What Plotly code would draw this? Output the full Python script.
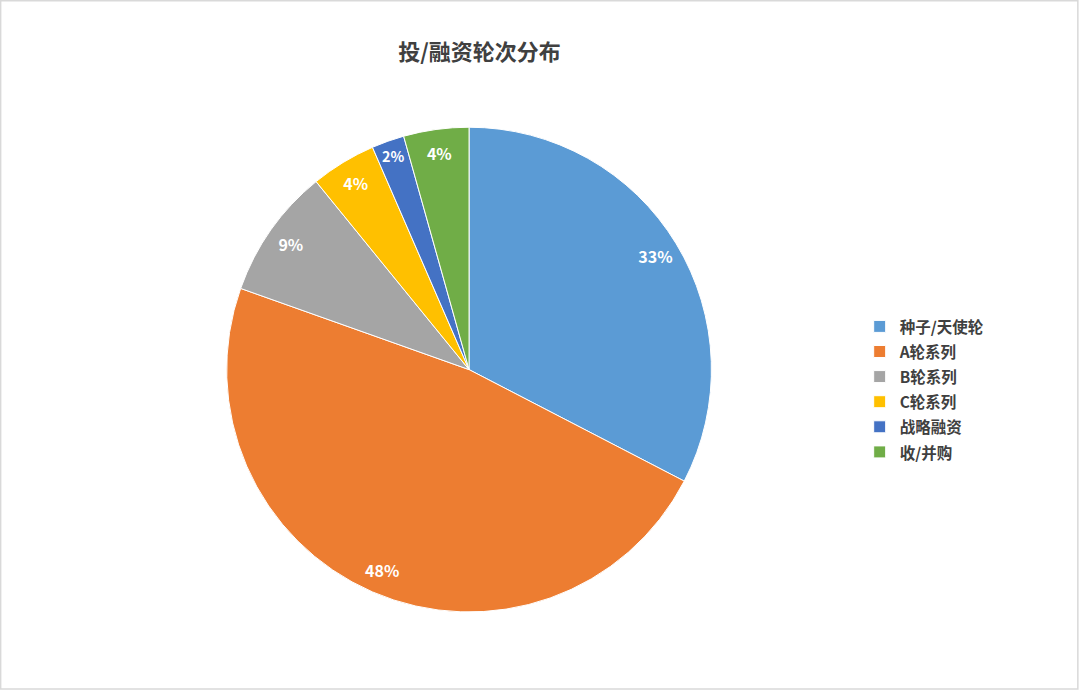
import plotly.graph_objects as go

# investment rounds (deal counts)
rounds = ["种子/天使轮", "A轮系列", "B轮系列", "C轮系列", "战略融资", "收/并购"]
counts = [15, 22, 4, 2, 1, 2]
colors = ["#5B9BD5", "#ED7D31", "#A5A5A5", "#FFC000", "#4472C4", "#70AD47"]

font_cn = "Noto Sans CJK SC"
pie_domain = dict(x=[0.2093, 0.6593], y=[0.1245, 0.818])

# legend labels: smaller span inside a bigger legend font -> wider row spacing
legend_labels = ['<span style="font-size:15.5px">%s</span>' % r for r in rounds]

fig = go.Figure()
fig.add_trace(go.Pie(
    labels=legend_labels,
    values=counts,
    sort=False,
    direction="clockwise",
    rotation=0,
    marker=dict(colors=colors, line=dict(color="white", width=1)),
    textinfo="none",
    domain=pie_domain,
    hovertemplate="%{customdata}: %{value} (%{percent})<extra></extra>",
    customdata=rounds,
))
# transparent ring on top, just to put the % labels near the rim
fig.add_trace(go.Pie(
    labels=rounds,
    values=counts,
    sort=False,
    direction="clockwise",
    rotation=0,
    hole=0.8,
    marker=dict(colors=["rgba(0,0,0,0)"] * len(rounds),
                line=dict(width=0)),
    texttemplate="%{percent:.0%}",
    textposition="inside",
    insidetextorientation="horizontal",
    textfont=dict(family=font_cn, size=16, color="white", weight="bold"),
    domain=pie_domain,
    hoverinfo="skip",
    showlegend=False,
))

fig.update_layout(
    width=1080, height=699,
    margin=dict(l=0, r=0, t=0, b=0),
    paper_bgcolor="white",
    title=dict(text="<b>投/融资轮次分布</b>", x=0.444, xanchor="center",
               y=0.925, yanchor="middle",
               font=dict(family=font_cn, size=22, color="#404040")),
    legend=dict(x=0.796, xanchor="left", y=0.443, yanchor="middle",
                font=dict(family=font_cn, size=17, color="#404040",
                          weight="bold"),
                itemwidth=30),
    shapes=[dict(type="rect", xref="paper", yref="paper",
                 x0=0.0006, y0=0.0143, x1=0.998, y1=0.999,
                 line=dict(color="#D9D9D9", width=1.5))],
)

fig.write_html("out.html", config={"displayModeBar": False},
               post_script="document.body.style.margin='0';")
